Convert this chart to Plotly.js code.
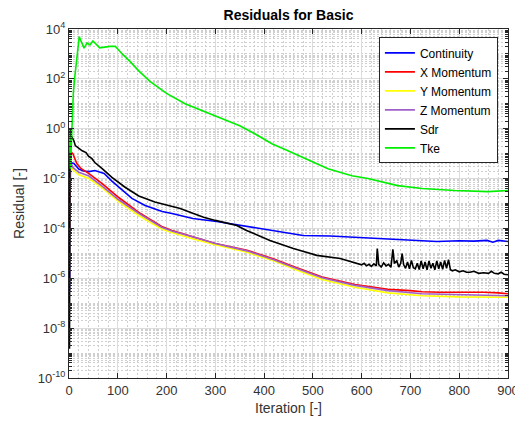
<!DOCTYPE html>
<html>
<head>
<meta charset="utf-8">
<script src="https://cdn.plot.ly/plotly-3.0.1.min.js"></script>
<style>html,body{margin:0;padding:0;background:#fff;}#chart{width:515px;height:421px;}</style>
</head>
<body>
<div id="chart"></div>
<script>
// ---- data (iteration, residual) ----
const seriesNames = ["Continuity", "X Momentum", "Y Momentum", "Z Momentum", "Sdr", "Tke"];

const contIter = [1, 3, 10, 20, 30, 41, 53, 62, 72, 88, 109, 129, 156, 191, 211, 254, 303, 357, 412, 480, 535, 570, 603, 640, 672, 710, 754, 800, 830, 857, 869, 880, 900];
const contVals = [3e-7, 4.4e-2, 4.0e-2, 2.4e-2, 2.0e-2, 1.9e-2, 2.1e-2, 1.9e-2, 1.6e-2, 7.9e-3, 3.5e-3, 1.6e-3, 8.3e-4, 4.8e-4, 4.0e-4, 2.5e-4, 1.9e-4, 1.3e-4, 8.3e-5, 5.2e-5, 5.0e-5, 4.6e-5, 4.4e-5, 4.0e-5, 3.6e-5, 3.3e-5, 3.0e-5, 3.2e-5, 3.1e-5, 3.3e-5, 2.8e-5, 3.3e-5, 3.0e-5];

const xmomIter = [1, 2, 8, 16, 25, 41, 68, 102, 143, 190, 211, 255, 300, 365, 381, 420, 460, 519, 586, 654, 700, 724, 760, 800, 850, 880, 900];
const xmomVals = [1e-4, 0.126, 0.1, 4.0e-2, 2.5e-2, 1.58e-2, 6.3e-3, 1.74e-3, 4.4e-4, 1.2e-4, 8.3e-5, 4.7e-5, 2.5e-5, 1.32e-5, 1.05e-5, 6.0e-6, 3.0e-6, 1.12e-6, 5.6e-7, 3.6e-7, 3.2e-7, 2.9e-7, 2.75e-7, 2.8e-7, 2.75e-7, 2.6e-7, 2.4e-7];

const ymomIter = [1, 2, 8, 20, 41, 68, 102, 143, 190, 211, 255, 300, 365, 420, 460, 519, 586, 654, 724, 800, 900];
const ymomVals = [2e-6, 4.0e-2, 2.24e-2, 1.41e-2, 1.0e-2, 4.2e-3, 1.2e-3, 3.3e-4, 9.5e-5, 6.9e-5, 3.8e-5, 2.2e-5, 1.1e-5, 5.0e-6, 2.4e-6, 8.9e-7, 4.4e-7, 2.6e-7, 2.0e-7, 1.8e-7, 1.74e-7];

const zmomIter = [1, 2, 8, 20, 41, 68, 102, 143, 190, 211, 255, 300, 365, 381, 420, 460, 519, 586, 654, 724, 800, 900];
const zmomVals = [1e-6, 5.0e-2, 2.8e-2, 1.78e-2, 1.26e-2, 5.0e-3, 1.41e-3, 4.0e-4, 1.12e-4, 7.9e-5, 4.5e-5, 2.5e-5, 1.26e-5, 1.0e-5, 5.6e-6, 2.8e-6, 1.05e-6, 5.2e-7, 3.2e-7, 2.4e-7, 2.2e-7, 2.0e-7];

const sdrIter = [1, 2, 5, 10, 13, 20, 27, 35, 40, 47, 53, 68, 88, 115, 143, 176, 187, 228, 255, 276, 300, 344, 364, 412, 460, 508, 556, 580,
  600, 605, 610, 615, 620, 625, 630, 632, 635, 640, 645, 650, 655, 660, 664, 667, 672, 676, 680, 683, 686, 690, 694, 698, 702, 706, 710, 714, 718, 722, 726, 730, 734, 738, 742, 746, 750, 754, 758, 762, 766, 770, 774, 778, 782, 786, 792, 800, 808, 815, 822, 830, 840, 850, 860, 866, 872, 880, 886, 892, 900];
const sdrVals = [1.5e-9, 1.0, 0.5, 0.33, 0.21, 0.16, 0.13, 0.11, 0.079, 0.063, 0.044, 0.025, 1.12e-2, 4.5e-3, 2.0e-3, 1.15e-3, 1.02e-3, 6.3e-4, 4.0e-4, 2.8e-4, 2.1e-4, 1.32e-4, 8.3e-5, 3.3e-5, 1.55e-5, 8.3e-6, 6.2e-6, 4.4e-6,
  3.47e-6, 3.98e-6, 3.16e-6, 3.63e-6, 3.02e-6, 3.8e-6, 3.16e-6, 1.55e-5, 3.55e-6, 2.82e-6, 4.17e-6, 3.16e-6, 3.63e-6, 2.75e-6, 1.45e-5, 3.98e-6, 5.0e-6, 2.82e-6, 3.98e-6, 9.8e-6, 3.55e-6, 2.51e-6, 4.47e-6, 2.4e-6, 5.25e-6, 2.63e-6, 2.4e-6, 3.98e-6, 2.24e-6, 5.0e-6, 2.4e-6, 4.47e-6, 2.19e-6, 5.0e-6, 2.51e-6, 3.98e-6, 2.19e-6, 5.0e-6, 2.4e-6, 4.47e-6, 2.29e-6, 5.25e-6, 2.51e-6, 5.62e-6, 2.19e-6, 2.0e-6, 2.19e-6, 1.82e-6, 2.0e-6, 1.74e-6, 1.74e-6, 1.9e-6, 1.58e-6, 1.66e-6, 1.58e-6, 1.9e-6, 1.58e-6, 1.51e-6, 1.74e-6, 1.45e-6, 1.38e-6];

const tkeIter = [1, 3, 6, 9, 12, 16, 21, 24, 31, 37, 43, 49, 56, 63, 84, 95, 100, 109, 125, 143, 166, 184, 200, 238, 270, 303, 350, 381, 416, 449, 484, 531, 580, 613, 674, 724, 791, 859, 900];
const tkeVals = [1.0, 0.025, 1.0, 30, 125, 800, 5000, 3500, 1700, 2750, 2300, 3300, 2300, 1750, 2000, 2000, 1580, 1000, 500, 209, 79, 45, 26, 10, 5.6, 3.3, 1.32, 0.63, 0.25, 0.13, 0.063, 0.025, 0.013, 0.010, 5.2e-3, 4.0e-3, 3.3e-3, 3.0e-3, 3.3e-3];

const xTickVals = [0, 100, 200, 300, 400, 500, 600, 700, 800, 900];
const yTickVals = [1e-10, 1e-8, 1e-6, 1e-4, 1e-2, 1e0, 1e2, 1e4];
const yTickText = ["10<sup>-10</sup>", "10<sup>-8</sup>", "10<sup>-6</sup>", "10<sup>-4</sup>", "10<sup>-2</sup>", "10<sup>0</sup>", "10<sup>2</sup>", "10<sup>4</sup>"];

// ---- styling ----
const colors = ["#0000ff", "#ff0000", "#ffff00", "#a15fc8", "#000000", "#00ee00"];
const xs = [contIter, xmomIter, ymomIter, zmomIter, sdrIter, tkeIter];
const ys = [contVals, xmomVals, ymomVals, zmomVals, sdrVals, tkeVals];

const traces = seriesNames.map((n, i) => ({
  type: "scatter", mode: "lines", name: n,
  x: xs[i], y: ys[i],
  line: {color: colors[i], width: 1.6}
}));

// minor log grid positions (2..9 x 10^k plus odd decades)
const minorY = [];
for (let e = -10; e < 4; e++) {
  for (let m = 1; m <= 9; m++) {
    if (m === 1 && e % 2 === 0) continue;
    minorY.push(m * Math.pow(10, e));
  }
}

const axisFont = {family: "Liberation Sans, Arial, sans-serif", size: 13, color: "#333333"};

const layout = {
  width: 515, height: 421,
  margin: {l: 69, r: 7, t: 29, b: 43},
  paper_bgcolor: "#ffffff", plot_bgcolor: "#ffffff",
  font: {family: "Liberation Sans, Arial, sans-serif", color: "#262626"},
  title: {text: "<b>Residuals for Basic</b>", font: {size: 14, color: "#000"}, x: 0.5, xref: "paper", xanchor: "center", y: 1 - 15/421, yref: "container", yanchor: "middle"},
  showlegend: true,
  legend: {x: 0.977, xanchor: "right", y: 0.976, yanchor: "top", bgcolor: "#ffffff", bordercolor: "#262626", borderwidth: 1, font: {size: 12, color: "#000"}, traceorder: "normal"},
  xaxis: {
    range: [0, 900], tickvals: xTickVals, ticktext: xTickVals.map(String),
    ticklabeloverflow: "allow",
    showline: true, linecolor: "#262626", linewidth: 1, mirror: "ticks",
    ticks: "inside", ticklen: 5, tickcolor: "#262626",
    showgrid: true, gridcolor: "#dcdcdc", gridwidth: 1,
    zeroline: false, tickfont: axisFont,
    minor: {dtick: 20, tick0: 0, showgrid: true, gridcolor: "#cfcfcf", griddash: "2px,2px", ticks: ""},
    title: {text: "Iteration [-]", font: {size: 14, color: "#333333"}, standoff: 6}
  },
  yaxis: {
    type: "log", range: [-10, 4], tickmode: "array", tickvals: yTickVals, ticktext: yTickText,
    showline: true, linecolor: "#262626", linewidth: 1, mirror: "ticks",
    ticks: "inside", ticklen: 5, tickcolor: "#262626",
    showgrid: true, gridcolor: "#dcdcdc", gridwidth: 1,
    zeroline: false, tickfont: axisFont,
    minor: {tickmode: "array", tickvals: minorY, showgrid: true, gridcolor: "#cfcfcf", griddash: "2px,2px", ticks: "inside", ticklen: 3, tickcolor: "#262626"},
    title: {text: "Residual [-]", font: {size: 14, color: "#333333"}, standoff: 9}
  }
};

Plotly.newPlot("chart", traces, layout, {displayModeBar: false, staticPlot: true});
</script>
</body>
</html>
